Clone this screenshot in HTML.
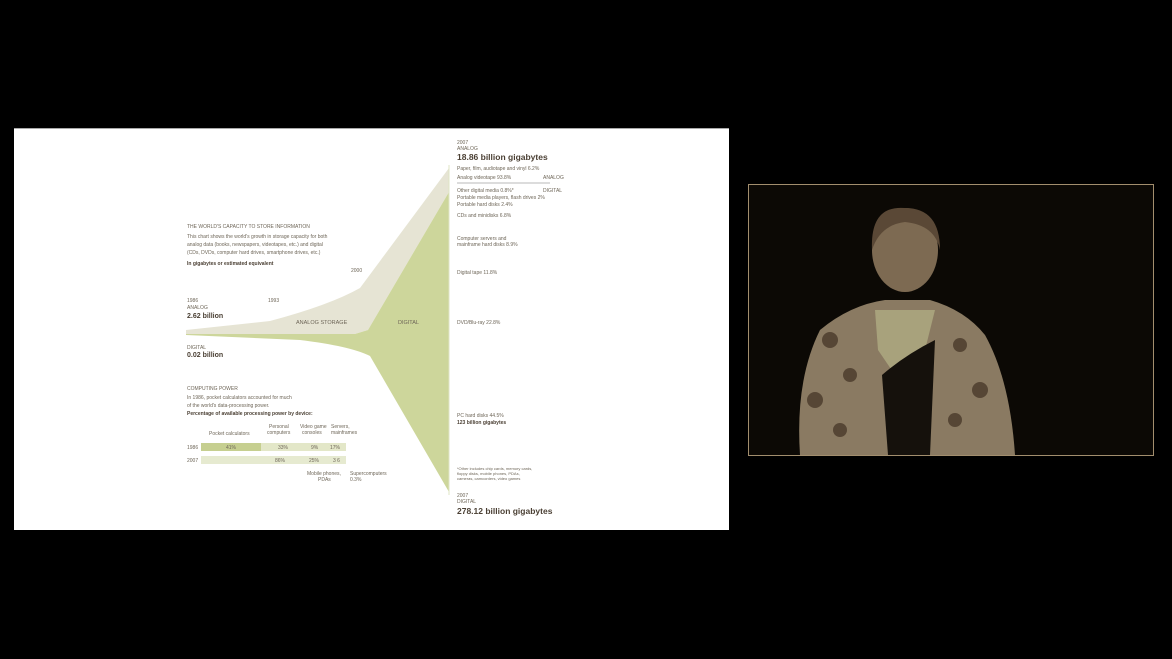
<!DOCTYPE html>
<html><head><meta charset="utf-8"><style>
html,body{margin:0;padding:0;background:#000;width:1172px;height:659px;overflow:hidden}
svg{display:block}
text{font-family:"Liberation Sans",sans-serif;fill:#6e6658}
.b{font-weight:bold;fill:#4a3f33}
</style></head><body>
<svg width="1172" height="659" viewBox="0 0 1172 659">
<rect x="0" y="0" width="1172" height="659" fill="#000"/>
<rect x="14" y="128" width="715" height="402" fill="#fff"/>
<rect x="14" y="128" width="715" height="1" fill="#a9a9a9"/>
<!-- analog band -->
<path d="M186 330 L270 321 Q330 305 360 288 L449 168 L449 192 L368 330 L355 334 L186 334 Z" fill="#e6e4d4"/>
<!-- digital -->
<path d="M186 334 L355 334 L368 330 L449 192 L449 492 L370 356 Q350 346 300 340 L186 335 Z" fill="#cdd69b"/>
<line x1="449" y1="165" x2="449" y2="495" stroke="#dfe4c4" stroke-width="1"/>
<g font-size="5">
<text x="187" y="228">THE WORLD'S CAPACITY TO STORE INFORMATION</text>
<text x="187" y="238">This chart shows the world's growth in storage capacity for both</text>
<text x="187" y="246">analog data (books, newspapers, videotapes, etc.) and digital</text>
<text x="187" y="254">(CDs, DVDs, computer hard drives, smartphone drives, etc.)</text>
<text x="187" y="265" class="b">In gigabytes or estimated equivalent</text>
<text x="351" y="272">2000</text>
<text x="187" y="302">1986</text>
<text x="268" y="302">1993</text>
<text x="187" y="309">ANALOG</text>
<text x="187" y="318" class="b" font-size="7">2.62 billion</text>
<text x="296" y="324" font-size="5.5">ANALOG STORAGE</text>
<text x="398" y="324" font-size="5.5">DIGITAL</text>
<text x="187" y="349">DIGITAL</text>
<text x="187" y="357" class="b" font-size="7">0.02 billion</text>
<text x="187" y="390">COMPUTING POWER</text>
<text x="187" y="399">In 1986, pocket calculators accounted for much</text>
<text x="187" y="407">of the world's data-processing power.</text>
<text x="187" y="415" class="b">Percentage of available processing power by device:</text>
<text x="209" y="435">Pocket calculators</text>
<text x="269" y="428">Personal</text><text x="267" y="434">computers</text>
<text x="300" y="428">Video game</text><text x="302" y="434">consoles</text>
<text x="331" y="428">Servers,</text><text x="331" y="434">mainframes</text>
<text x="187" y="449">1986</text><text x="187" y="462">2007</text>
<text x="307" y="475">Mobile phones,</text><text x="318" y="481">PDAs</text>
<text x="350" y="475">Supercomputers</text><text x="350" y="481">0.3%</text>
</g>
<rect x="201" y="443" width="145" height="8" fill="#e3e7c8"/>
<rect x="201" y="443" width="60" height="8" fill="#c6cf90"/>
<rect x="201" y="456" width="145" height="8" fill="#e6ead0"/>
<g font-size="5" fill="#6e6658"><text x="226" y="449">41%</text><text x="278" y="449">33%</text><text x="311" y="449">9%</text><text x="330" y="449">17%</text>
<text x="275" y="462">86%</text><text x="309" y="462">25%</text><text x="333" y="462">3 6</text></g>
<g font-size="5">
<text x="457" y="144">2007</text><text x="457" y="150">ANALOG</text>
<text x="457" y="160" class="b" font-size="8.5">18.86 billion gigabytes</text>
<text x="457" y="170">Paper, film, audiotape and vinyl 6.2%</text>
<text x="457" y="179">Analog videotape 93.8%</text>
<text x="543" y="179">ANALOG</text>
<line x1="457" y1="183" x2="550" y2="183" stroke="#777" stroke-width="0.6"/>
<text x="543" y="192">DIGITAL</text>
<text x="457" y="192">Other digital media 0.8%*</text>
<text x="457" y="199">Portable media players, flash drives 2%</text>
<text x="457" y="206">Portable hard disks 2.4%</text>
<text x="457" y="217">CDs and minidisks 6.8%</text>
<text x="457" y="240">Computer servers and</text>
<text x="457" y="246">mainframe hard disks 8.9%</text>
<text x="457" y="274">Digital tape 11.8%</text>
<text x="457" y="324">DVD/Blu-ray 22.8%</text>
<text x="457" y="417">PC hard disks 44.5%</text>
<text x="457" y="424" class="b">123 billion gigabytes</text>
<text x="457" y="470" font-size="4">*Other includes chip cards, memory cards,</text>
<text x="457" y="475" font-size="4">floppy disks, mobile phones, PDAs,</text>
<text x="457" y="480" font-size="4">cameras, camcorders, video games</text>
<text x="457" y="497">2007</text><text x="457" y="503">DIGITAL</text>
<text x="457" y="514" class="b" font-size="8.5">278.12 billion gigabytes</text>
</g>
<!-- video -->
<rect x="748.5" y="184.5" width="405" height="271" fill="#0c0905" stroke="#a28e6e" stroke-width="1"/>
<path d="M800 455 Q795 380 820 330 Q850 305 885 300 L930 300 Q965 310 985 335 Q1010 380 1015 455 Z" fill="#8a7a62"/>
<path d="M875 310 L935 310 L925 350 L895 375 L878 350 Z" fill="#a8a27c"/>
<path d="M882 375 Q905 355 935 340 L930 455 L888 455 Z" fill="#15110c"/>
<ellipse cx="905" cy="250" rx="33" ry="42" fill="#7d6a52"/>
<path d="M872 250 Q870 205 905 208 Q940 208 940 250 Q935 225 905 222 Q880 225 872 250Z" fill="#5a4836"/>
<g fill="#4a3a2a" opacity="0.8"><circle cx="830" cy="340" r="8"/><circle cx="850" cy="375" r="7"/><circle cx="815" cy="400" r="8"/><circle cx="960" cy="345" r="7"/><circle cx="980" cy="390" r="8"/><circle cx="955" cy="420" r="7"/><circle cx="840" cy="430" r="7"/></g>
</svg>
</body></html>
